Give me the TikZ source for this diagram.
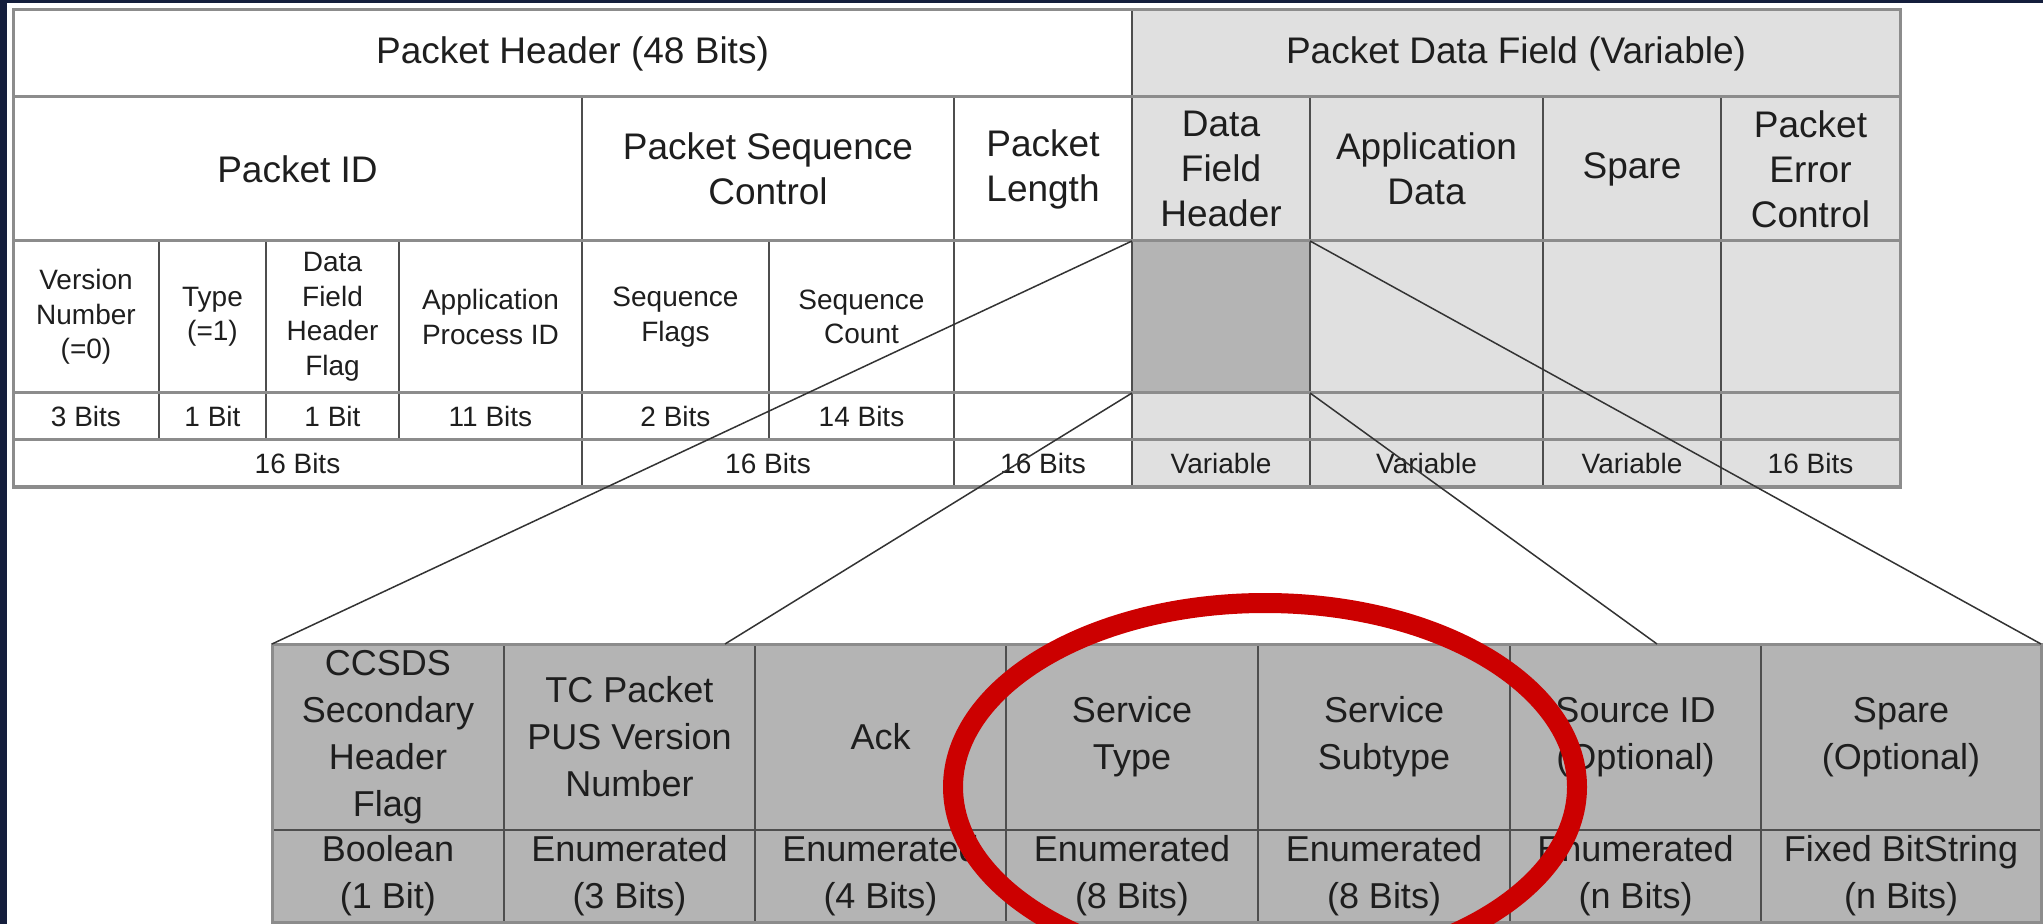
\documentclass[tikz,border=0pt]{standalone}
\usepackage{fontspec}
\setmainfont{Liberation Sans}
\usetikzlibrary{shapes.geometric}
\definecolor{navy}{HTML}{141E3C}
\definecolor{lightg}{HTML}{E0E0E0}
\definecolor{darkg}{HTML}{B4B4B4}
\definecolor{gridc}{HTML}{4E4E4E}
\definecolor{borderc}{HTML}{8C8C8C}
\definecolor{ringred}{HTML}{CC0000}
\definecolor{txt}{HTML}{1E1E1E}
\newcommand\cellbox[7]{%
  \pgfmathsetmacro\cellw{(#4-#2)*0.5}%
  \pgfmathsetmacro\cellh{(#5-#3)*0.5}%
  \node[#6, minimum width=\cellw pt, minimum height=\cellh pt] (#1) at ({(#2+#4)/2},{(#3+#5)/2}) {#7};}
\begin{document}
\begin{tikzpicture}[x=0.5pt,y=-0.5pt,
  cell/.style={rectangle, inner sep=0pt, outer sep=0pt, draw=gridc, line width=0.9pt, align=center, text=txt, anchor=center},
  big/.style={font=\fontsize{18.5}{22.5}\selectfont},
  small/.style={font=\fontsize{14}{17.25}\selectfont},
  sub/.style={font=\fontsize{18}{23.5}\selectfont},
  wc/.style={cell, fill=white},
  lc/.style={cell, fill=lightg},
  dc/.style={cell, fill=darkg},
  zoomline/.style={draw=black!80, line width=0.75pt},
  frame/.style={draw=borderc, line width=1.5pt},
  ring/.style={draw=ringred, line width=10pt},
]
\useasboundingbox (0,0) rectangle (2043,924);
\fill[white] (0,0) rectangle (2043,924);
\fill[navy] (0,0) rectangle (2043,3.5);
\fill[navy] (0,0) rectangle (7,924);

% ---- top table, row 1
\cellbox{hdr}{13}{10}{1132}{97}{wc,big}{Packet Header (48 Bits)}
\cellbox{pdf}{1132}{10}{1900}{97}{lc,big}{Packet Data Field (Variable)}
% ---- row 2
\cellbox{pid}{13}{97}{582}{241}{wc,big}{Packet ID}
\cellbox{psc}{582}{97}{954}{241}{wc,big}{Packet Sequence\\Control}
\cellbox{plen}{954}{97}{1132}{241}{wc,big}{Packet\\Length}
\cellbox{dfh}{1132}{97}{1310}{241}{lc,big}{Data\\Field\\Header}
\cellbox{appd}{1310}{97}{1543}{241}{lc,big}{Application\\Data}
\cellbox{spare}{1543}{97}{1721}{241}{lc,big}{Spare}
\cellbox{pec}{1721}{97}{1900}{241}{lc,big}{Packet\\Error\\Control}
% ---- row 3
\cellbox{ver}{13}{241}{159}{393}{wc,small}{Version\\Number\\(=0)}
\cellbox{type}{159}{241}{266}{393}{wc,small}{Type\\(=1)}
\cellbox{dfhf}{266}{241}{399}{393}{wc,small}{Data\\Field\\Header\\Flag}
\cellbox{apid}{399}{241}{582}{393}{wc,small}{Application\\Process ID}
\cellbox{sflags}{582}{241}{769}{393}{wc,small}{Sequence\\Flags}
\cellbox{scount}{769}{241}{954}{393}{wc,small}{Sequence\\Count}
\cellbox{plen3}{954}{241}{1132}{393}{wc,small}{}
\cellbox{dfh3}{1132}{241}{1310}{393}{dc,small}{}
\cellbox{appd3}{1310}{241}{1543}{393}{lc,small}{}
\cellbox{spare3}{1543}{241}{1721}{393}{lc,small}{}
\cellbox{pec3}{1721}{241}{1900}{393}{lc,small}{}
% ---- row 4
\cellbox{b3}{13}{393}{159}{440}{wc,small}{3 Bits}
\cellbox{b1a}{159}{393}{266}{440}{wc,small}{1 Bit}
\cellbox{b1b}{266}{393}{399}{440}{wc,small}{1 Bit}
\cellbox{b11}{399}{393}{582}{440}{wc,small}{11 Bits}
\cellbox{b2}{582}{393}{769}{440}{wc,small}{2 Bits}
\cellbox{b14}{769}{393}{954}{440}{wc,small}{14 Bits}
\cellbox{plen4}{954}{393}{1132}{440}{wc,small}{}
\cellbox{dfh4}{1132}{393}{1310}{440}{lc,small}{}
\cellbox{appd4}{1310}{393}{1543}{440}{lc,small}{}
\cellbox{spare4}{1543}{393}{1721}{440}{lc,small}{}
\cellbox{pec4}{1721}{393}{1900}{440}{lc,small}{}
% ---- row 5
\cellbox{pid5}{13}{440}{582}{487}{wc,small}{16 Bits}
\cellbox{psc5}{582}{440}{954}{487}{wc,small}{16 Bits}
\cellbox{plen5}{954}{440}{1132}{487}{wc,small}{16 Bits}
\cellbox{dfh5}{1132}{440}{1310}{487}{lc,small}{Variable}
\cellbox{appd5}{1310}{440}{1543}{487}{lc,small}{Variable}
\cellbox{spare5}{1543}{440}{1721}{487}{lc,small}{Variable}
\cellbox{pec5}{1721}{440}{1900}{487}{lc,small}{16 Bits}
% horizontal separators and frame of the top table
\draw[frame] (hdr.north west) rectangle (pec5.south east);
\draw[frame] (hdr.south west) -- (pdf.south east);
\draw[frame] (pid.south west) -- (pec.south east);
\draw[frame] (ver.south west) -- (pec3.south east);
\draw[frame] (b3.south west) -- (pec4.south east);

% ---- bottom table
\cellbox{s1}{272}{644}{504}{830}{dc,sub}{CCSDS\\Secondary\\Header\\Flag}
\cellbox{s2}{504}{644}{755}{830}{dc,sub}{TC Packet\\PUS Version\\Number}
\cellbox{s3}{755}{644}{1006}{830}{dc,sub}{Ack}
\cellbox{s4}{1006}{644}{1258}{830}{dc,sub}{Service\\Type}
\cellbox{s5}{1258}{644}{1510}{830}{dc,sub}{Service\\Subtype}
\cellbox{s6}{1510}{644}{1761}{830}{dc,sub}{Source ID\\(Optional)}
\cellbox{s7}{1761}{644}{2041}{830}{dc,sub}{Spare\\(Optional)}
\cellbox{t1}{272}{830}{504}{922}{dc,sub}{Boolean\\(1 Bit)}
\cellbox{t2}{504}{830}{755}{922}{dc,sub}{Enumerated\\(3 Bits)}
\cellbox{t3}{755}{830}{1006}{922}{dc,sub}{Enumerated\\(4 Bits)}
\cellbox{t4}{1006}{830}{1258}{922}{dc,sub}{Enumerated\\(8 Bits)}
\cellbox{t5}{1258}{830}{1510}{922}{dc,sub}{Enumerated\\(8 Bits)}
\cellbox{t6}{1510}{830}{1761}{922}{dc,sub}{Enumerated\\(n Bits)}
\cellbox{t7}{1761}{830}{2041}{922}{dc,sub}{Fixed BitString\\(n Bits)}
\draw[frame] (s1.north west) rectangle (t7.south east);

% ---- zoom lines
\coordinate (za) at (725,644);
\coordinate (zb) at (1657,644);
\draw[zoomline] (dfh3.north west) -- (s1.north west);
\draw[zoomline] (dfh3.south west) -- (za);
\draw[zoomline] (dfh3.north east) -- (s7.north east);
\draw[zoomline] (dfh3.south east) -- (zb);

% ---- red ring
\node[ring, ellipse, minimum width=312pt, minimum height=184pt, inner sep=0pt] (ring) at (1265,787) {};
\end{tikzpicture}
\end{document}
